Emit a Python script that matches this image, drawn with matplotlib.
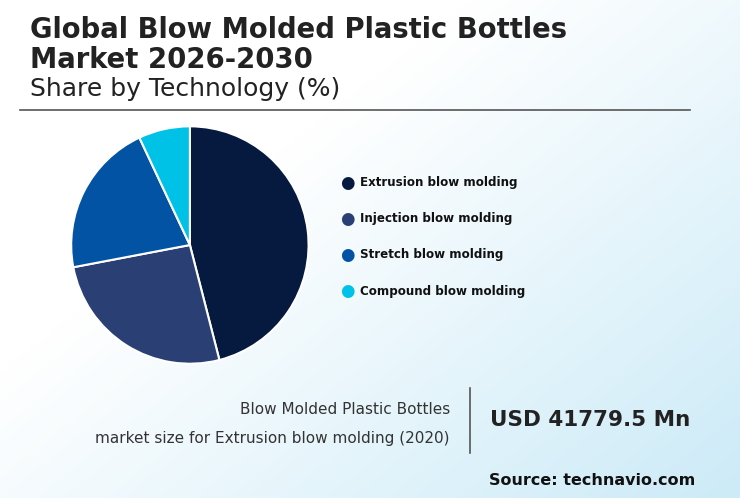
import numpy as np
import matplotlib.pyplot as plt
from matplotlib.lines import Line2D

technologies = ["Extrusion blow molding", "Injection blow molding",
                "Stretch blow molding", "Compound blow molding"]
shares = [46, 26, 21, 7]
colors = ["#061a40", "#2a3f73", "#0353a4", "#00c2e6"]


def main():
    fig = plt.figure(figsize=(7.40, 4.98), dpi=100)

    # background gradient: white top-left, light blue bottom-right
    bg = fig.add_axes([0, 0, 1, 1], zorder=-1)
    xx, yy = np.meshgrid(np.linspace(0, 1, 200), np.linspace(0, 1, 200))
    t = np.clip((xx * 0.7 + yy * 0.6) - 0.45, 0, 1) / 0.85
    img = np.zeros((200, 200, 3))
    start = np.array([1.0, 1.0, 1.0])
    end = np.array([0.80, 0.92, 0.97])
    for i in range(3):
        img[..., i] = start[i] + (end[i] - start[i]) * t
    bg.imshow(img, extent=[0, 1, 0, 1], aspect="auto")
    bg.axis("off")

    fig.text(0.041, 0.94, "Global Blow Molded Plastic Bottles", fontsize=19.8,
             fontweight="bold", color="#222222", va="center")
    fig.text(0.041, 0.88, "Market 2026-2030", fontsize=19.8,
             fontweight="bold", color="#222222", va="center")
    fig.text(0.041, 0.822, "Share by Technology (%)", fontsize=18,
             color="#222222", va="center")
    fig.add_artist(Line2D([0.027, 0.932], [0.779, 0.779], color="#555555", lw=1.2))

    ax = fig.add_axes([0.0946, 0.267, 0.324, 0.482])
    ax.pie(shares, colors=colors, startangle=90, counterclock=False, radius=1,
           wedgeprops=dict(edgecolor="white", linewidth=1.5))
    ax.set_xlim(-1.01, 1.01)
    ax.set_ylim(-1.01, 1.01)
    ax.set_aspect("equal")

    for i, name in enumerate(technologies):
        y = 0.633 - i * 0.0725
        fig.text(0.47, y, "\u25cf", fontsize=12, color=colors[i], va="center", ha="center")
        fig.text(0.486, y, name, fontsize=8.6, fontweight="bold", color="#111111", va="center")

    fig.text(0.608, 0.178, "Blow Molded Plastic Bottles", fontsize=11,
             color="#333333", ha="right", va="center")
    fig.text(0.608, 0.12, "market size for Extrusion blow molding (2020)", fontsize=11,
             color="#333333", ha="right", va="center")
    fig.add_artist(Line2D([0.635, 0.635], [0.09, 0.22], color="#555555", lw=1.2))
    fig.text(0.662, 0.157, "USD 41779.5 Mn", fontsize=15.5, fontweight="bold",
             color="#222222", va="center")
    fig.text(0.94, 0.036, "Source: technavio.com", fontsize=11.5, fontweight="bold",
             color="#111111", ha="right", va="center")

    fig.savefig("out.png", dpi=100)
    plt.close(fig)


if __name__ == "__main__":
    main()
